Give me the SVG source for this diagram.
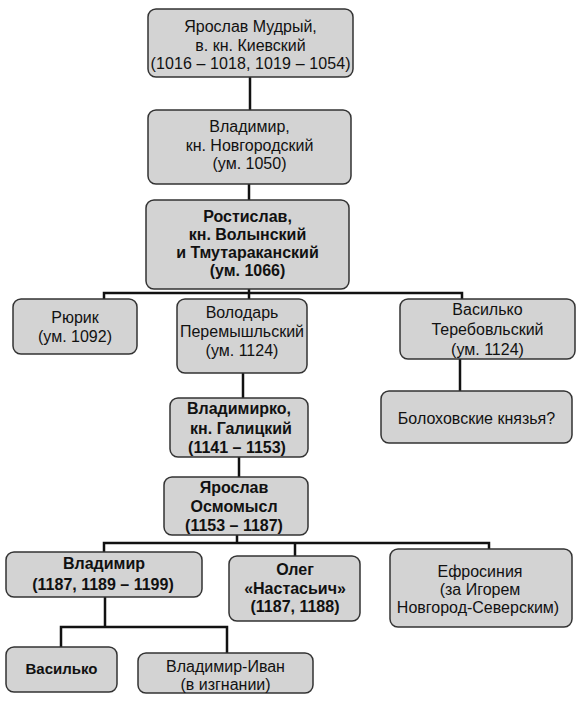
<svg xmlns="http://www.w3.org/2000/svg" width="579" height="701" viewBox="0 0 579 701">
<style>
.box{fill:#d3d3d3;stroke:#333;stroke-width:1.5}
text{font-family:"Liberation Sans",Arial,sans-serif;font-size:16px;fill:#111;text-anchor:middle}
.b{font-weight:bold}
.ln{stroke:#111;stroke-width:2.5;fill:none}
</style>
<rect width="579" height="701" fill="#fff"/>
<g id="connectors">
<path class="ln" d="M250,77V110"/>
<path class="ln" d="M249,184V200"/>
<path class="ln" d="M249,289V299M104,299V293H462V299"/>
<path class="ln" d="M243,373V398"/>
<path class="ln" d="M239,457V477"/>
<path class="ln" d="M460,359V391"/>
<path class="ln" d="M237,535V543M104,552V543H489V549M295,543V556"/>
<path class="ln" d="M105,597V627M61,647V627H227V653"/>
</g>
<g id="n1"><rect class="box" x="148" y="9" width="205" height="68" rx="8"/>
<text x="250.5" y="32">Ярослав Мудрый,</text><text x="250.5" y="50.5">в. кн. Киевский</text><text x="250.5" y="69" textLength="200" lengthAdjust="spacing">(1016 – 1018, 1019 – 1054)</text></g>
<g id="n2"><rect class="box" x="148" y="110" width="203" height="74" rx="8"/>
<text x="249.5" y="132">Владимир,</text><text x="249.5" y="151">кн. Новгородский</text><text x="249.5" y="169">(ум. 1050)</text></g>
<g id="n3" class="b"><rect class="box" x="146" y="200" width="203" height="89" rx="8"/>
<text class="b" x="247.5" y="222">Ростислав,</text><text class="b" x="247.5" y="240">кн. Волынский</text><text class="b" x="247.5" y="258">и Тмутараканский</text><text class="b" x="247.5" y="276">(ум. 1066)</text></g>
<g id="n4"><rect class="box" x="13" y="299" width="124" height="55" rx="8"/>
<text x="75" y="323">Рюрик</text><text x="75" y="342">(ум. 1092)</text></g>
<g id="n5"><rect class="box" x="177" y="299" width="130" height="74" rx="8"/>
<text x="242" y="318">Володарь</text><text x="242" y="337">Перемышльский</text><text x="242" y="356">(ум. 1124)</text></g>
<g id="n6"><rect class="box" x="400" y="299" width="175" height="60" rx="8"/>
<text x="487.5" y="315">Василько</text><text x="487.5" y="335">Теребовльский</text><text x="487.5" y="355">(ум. 1124)</text></g>
<g id="n7"><rect class="box" x="381" y="391" width="191" height="52" rx="8"/>
<text x="476.5" y="424">Болоховские князья?</text></g>
<g id="n8"><rect class="box" x="170" y="398" width="138" height="59" rx="8"/>
<text class="b" x="239" y="414">Владимирко,</text><text class="b" x="241" y="434">кн. Галицкий</text><text class="b" x="237" y="453">(1141 – 1153)</text></g>
<g id="n9"><rect class="box" x="164" y="477" width="144" height="58" rx="8"/>
<text class="b" x="234" y="493">Ярослав</text><text class="b" x="234" y="512">Осмомысл</text><text class="b" x="234" y="531">(1153 – 1187)</text></g>
<g id="n10"><rect class="box" x="6" y="552" width="196" height="45" rx="8"/>
<text class="b" x="104" y="569">Владимир</text><text class="b" x="103" y="590">(1187, 1189 – 1199)</text></g>
<g id="n11"><rect class="box" x="229" y="556" width="131" height="65" rx="8"/>
<text class="b" x="295" y="575">Олег</text><text class="b" x="295" y="594">«Настасьич»</text><text class="b" x="295" y="612">(1187, 1188)</text></g>
<g id="n12"><rect class="box" x="390" y="549" width="182" height="78" rx="8"/>
<text x="480" y="577">Ефросиния</text><text x="480" y="595">(за Игорем</text><text x="478" y="613">Новгород-Северским)</text></g>
<g id="n13"><rect class="box" x="6" y="647" width="111" height="45" rx="8"/>
<text class="b" x="61.5" y="674" style="font-size:15px">Василько</text></g>
<g id="n14"><rect class="box" x="138" y="653" width="175" height="40" rx="8"/>
<text x="225.5" y="672">Владимир-Иван</text><text x="225.5" y="690">(в изгнании)</text></g>
</svg>
